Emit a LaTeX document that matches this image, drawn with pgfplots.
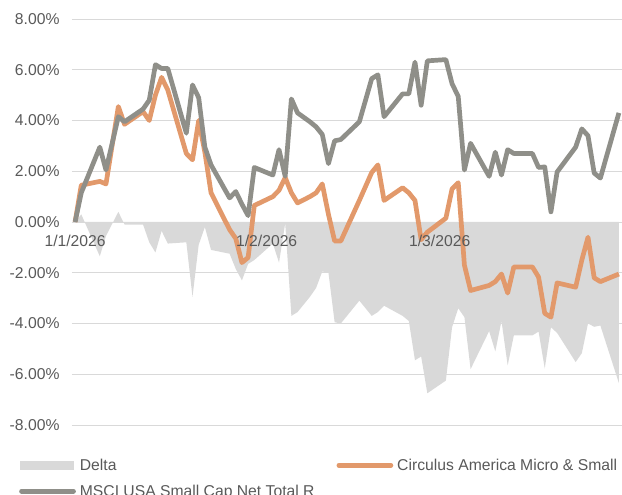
\documentclass[border=0pt]{standalone}
\usepackage{fontspec}
\setmainfont{Liberation Sans}
\usepackage{pgfplots}
\pgfplotsset{compat=1.18}
\usepackage{pgfplotstable}
\definecolor{msci}{RGB}{143,143,137}
\definecolor{circ}{RGB}{226,153,107}
\definecolor{deltac}{RGB}{217,217,217}
\definecolor{gridc}{RGB}{217,217,217}
\definecolor{txt}{RGB}{89,89,89}

% day = days since 1/1/2026; values in percent
\pgfplotstableread{
day C M
0 0 0
1 1.45 1.15
4 1.60 2.95
5 1.50 2.05
7 4.55 4.15
8 3.85 3.95
11 4.35 4.45
12 4.00 4.80
13 5.00 6.20
14 5.70 6.05
15 5.20 6.05
18 2.70 3.50
19 2.45 5.40
20 4.00 4.90
21 2.75 2.95
22 1.15 2.25
25 -0.30 0.95
26 -0.65 1.20
27 -1.60 0.70
28 -1.40 0.25
29 0.65 2.15
32 1.00 1.85
33 1.25 2.85
34 1.75 1.80
35 1.15 4.85
36 0.75 4.30
38 1.00 3.95
39 1.15 3.75
40 1.50 3.45
41 0.30 2.30
42 -0.75 3.20
43 -0.75 3.25
46 0.85 3.95
48 1.95 5.65
49 2.25 5.80
50 0.85 4.15
53 1.35 5.05
54 1.15 5.05
55 0.85 6.30
56 -0.70 4.60
57 -0.40 6.35
60 0.15 6.40
61 1.30 5.45
62 1.55 4.95
63 -1.70 2.05
64 -2.70 3.10
67 -2.50 1.80
68 -2.35 2.75
69 -2.05 1.85
70 -2.80 2.85
71 -1.77 2.70
74 -1.77 2.70
75 -2.17 2.15
76 -3.60 2.17
77 -3.75 0.40
78 -2.40 1.97
81 -2.57 2.95
82 -1.50 3.67
83 -0.60 3.40
84 -2.20 1.93
85 -2.35 1.73
88 -2.05 4.30
}\series

\pgfplotstableread{
day D
0 0
1 0.30
4 -1.35
5 -0.55
7 0.40
8 -0.10
11 -0.10
12 -0.80
13 -1.20
14 -0.35
15 -0.85
18 -0.80
19 -2.95
20 -0.90
21 -0.20
22 -1.10
25 -1.25
26 -1.85
27 -2.30
28 -1.65
29 -1.50
32 -0.85
33 -1.60
34 -0.05
35 -3.70
36 -3.55
38 -2.95
39 -2.60
40 -1.95
41 -2.00
42 -3.95
43 -4.00
46 -3.10
48 -3.70
49 -3.55
50 -3.30
53 -3.70
54 -3.90
55 -5.45
56 -5.30
57 -6.75
60 -6.25
61 -4.15
62 -3.40
63 -3.75
64 -5.80
67 -4.30
68 -5.10
69 -3.90
70 -5.65
71 -4.47
74 -4.47
75 -4.32
76 -5.77
77 -4.15
78 -4.37
81 -5.52
82 -5.17
83 -4.00
84 -4.13
85 -4.08
88 -6.35
88 0
}\delta

\begin{document}
\begin{tikzpicture}
\begin{axis}[
  at={(0,0)}, anchor=south west,
  scale only axis, width=550bp, height=406bp,
  xmin=-0.5, xmax=88.5, ymin=-8, ymax=8,
  clip mode=individual,
  axis line style={draw=none},
  major tick length=0pt,
  xtick={0,31,59}, xticklabels={},
  ytick={-8,-6,...,8},
  ymajorgrids, grid style={gridc, line width=0.9bp},
  /pgf/number format/assume math mode=true,
  yticklabel={\pgfmathprintnumber[fixed,fixed zerofill,precision=2]{\tick}\%},
  tick label style={font=\fontsize{15.7bp}{18bp}\selectfont, text=txt},
  yticklabel style={xshift=-9bp},
  legend columns=2,
  legend cell align=left,
  legend style={at={(axis description cs:-0.0964,-0.078)}, anchor=north west,
    draw=none, fill=none, inner sep=0pt,
    font=\fontsize{15.7bp}{18bp}\selectfont, text=txt,
    row sep=9bp,
    /tikz/every odd column/.append style={column sep=2bp},
    /tikz/every even column/.append style={column sep=20bp}},
]
\addplot[fill=deltac, draw=none,
  legend image code/.code={\fill[deltac] (0bp,-4.5bp) rectangle (54bp,4.5bp);}]
  table[x=day, y=D] {\delta};
\addlegendentry{Delta}
\addplot[circ, line width=4.7bp, line join=round,
  legend image code/.code={\draw[circ, line width=4.7bp, line cap=round] (2bp,0bp) -- (54bp,0bp);}]
  table[x=day, y=C] {\series};
\addlegendentry{Circulus America Micro \& Small}
\addplot[msci, line width=4.7bp, line join=round,
  legend image code/.code={\draw[msci, line width=4.7bp, line cap=round] (2bp,0bp) -- (54bp,0bp);}]
  table[x=day, y=M] {\series};
\addlegendentry{MSCI USA Small Cap Net Total R}
% date labels of the x axis, set on the zero line above the plotted series
\begin{scope}[every node/.style={font=\fontsize{15.7bp}{18bp}\selectfont, text=txt, inner sep=0pt, yshift=-19bp}]
\node at (axis cs:0,0) {1/1/2026};
\node at (axis cs:31,0) {1/2/2026};
\node at (axis cs:59,0) {1/3/2026};
\end{scope}
\end{axis}
\pgfresetboundingbox
\useasboundingbox (-72bp,-70bp) rectangle (550bp,425bp);
\end{tikzpicture}
\end{document}
